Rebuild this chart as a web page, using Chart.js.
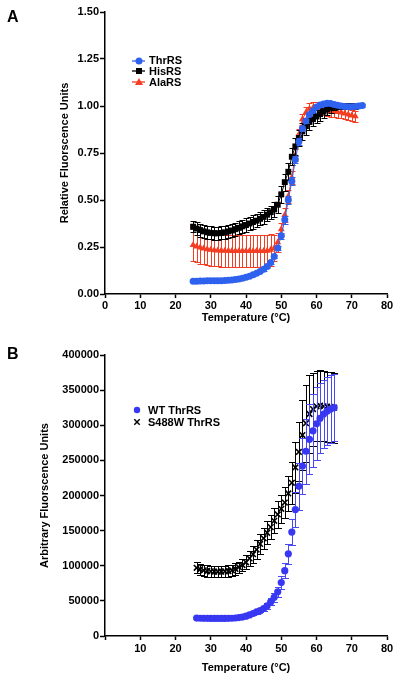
<!DOCTYPE html>
<html><head><meta charset="utf-8">
<script src="https://cdn.jsdelivr.net/npm/chart.js@4.4.1/dist/chart.umd.min.js"></script>
<style>
html,body{margin:0;padding:0;background:#fff;}
body{width:400px;height:682px;position:relative;overflow:hidden;font-family:"Liberation Sans",Arial,Helvetica,sans-serif;font-weight:bold;color:#000;}
.wrap{position:absolute;left:0;width:400px;}
.lbl{position:absolute;font-size:16px;line-height:16px;}
.leg{position:absolute;font-size:11px;line-height:11px;white-space:nowrap;}
svg.mk{position:absolute;overflow:visible;}
</style></head><body>
<div class="wrap" style="top:0;height:340px"><canvas id="ca" width="400" height="340"></canvas></div>
<div class="wrap" style="top:340px;height:342px"><canvas id="cb" width="400" height="342"></canvas></div>
<div class="lbl" style="left:7px;top:9px">A</div>
<div class="lbl" style="left:7px;top:346px">B</div>
<div id="legends"></div>
<script>
// ---------- Panel A data ----------
const tempsThr = [25,26,27,28,29,30,31,32,33,34,35,36,37,38,39,40,41,42,43,44,45,46,47,48,49,50,51,52,53,54,55,56,57,58,59,60,61,62,63,64,65,66,67,68,69,70,71,72,73];
const thrRS = [0.068,0.068,0.069,0.069,0.070,0.070,0.070,0.071,0.071,0.072,0.073,0.075,0.077,0.080,0.084,0.089,0.095,0.102,0.110,0.120,0.131,0.146,0.168,0.200,0.245,0.310,0.395,0.500,0.600,0.715,0.810,0.880,0.920,0.955,0.975,0.995,1.005,1.010,1.014,1.013,1.008,1.004,1.000,0.998,0.996,0.996,0.998,1.000,1.003];
const thrRSErr = [0.004,0.004,0.004,0.004,0.004,0.004,0.004,0.004,0.004,0.004,0.004,0.004,0.004,0.004,0.004,0.005,0.005,0.005,0.005,0.005,0.006,0.006,0.007,0.010,0.012,0.015,0.020,0.020,0.020,0.020,0.018,0.015,0.012,0.010,0.008,0.008,0.008,0.008,0.008,0.008,0.008,0.008,0.008,0.008,0.008,0.008,0.008,0.008,0.008];
const tempsHisAla = [25,26,27,28,29,30,31,32,33,34,35,36,37,38,39,40,41,42,43,44,45,46,47,48,49,50,51,52,53,54,55,56,57,58,59,60,61,62,63,64,65,66,67,68,69,70,71];
const hisRS = [0.358,0.348,0.340,0.333,0.328,0.325,0.323,0.323,0.325,0.328,0.333,0.338,0.345,0.352,0.360,0.367,0.375,0.383,0.390,0.400,0.410,0.422,0.435,0.450,0.475,0.530,0.595,0.650,0.730,0.785,0.830,0.865,0.893,0.915,0.930,0.944,0.957,0.970,0.982,0.990,0.996,1.000,1.000,1.000,1.000,1.000,0.998];
const hisRSErr = [0.030,0.035,0.035,0.035,0.035,0.035,0.035,0.035,0.035,0.035,0.035,0.035,0.035,0.035,0.035,0.035,0.035,0.035,0.035,0.035,0.035,0.035,0.035,0.040,0.045,0.045,0.045,0.045,0.045,0.045,0.045,0.045,0.045,0.045,0.035,0.035,0.035,0.035,0.030,0.025,0.015,0.015,0.015,0.015,0.015,0.015,0.015];
const alaRS = [0.260,0.253,0.247,0.242,0.238,0.235,0.233,0.232,0.231,0.230,0.230,0.229,0.229,0.229,0.229,0.229,0.229,0.229,0.229,0.229,0.229,0.230,0.235,0.245,0.275,0.345,0.420,0.520,0.620,0.740,0.850,0.930,0.965,0.985,0.990,0.990,0.985,0.980,0.975,0.970,0.970,0.968,0.965,0.960,0.955,0.950,0.945];
const alaRSErr = [0.085,0.085,0.085,0.085,0.085,0.085,0.085,0.085,0.085,0.085,0.085,0.085,0.085,0.085,0.085,0.085,0.085,0.085,0.085,0.085,0.085,0.085,0.085,0.070,0.050,0.035,0.035,0.035,0.035,0.030,0.030,0.030,0.030,0.030,0.030,0.030,0.030,0.030,0.030,0.030,0.030,0.030,0.030,0.030,0.030,0.030,0.030];
const seriesA = ['ThrRS','HisRS','AlaRS'];
const xTicks = [0,10,20,30,40,50,60,70,80];
const yTicksA = [0,0.25,0.5,0.75,1.0,1.25,1.5];

// ---------- Panel B data ----------
const tempsB = [26,27,28,29,30,31,32,33,34,35,36,37,38,39,40,41,42,43,44,45,46,47,48,49,50,51,52,53,54,55,56,57,58,59,60,61,62,63,64,65];
const wtThrRS = [25500,25300,25200,25100,25000,25000,25000,25000,25000,25100,25300,25600,26200,27000,28200,30000,32000,34500,36000,39000,43000,48500,55000,63000,76000,93000,117000,148000,180000,213000,242000,263000,280000,292000,302000,310000,316000,320000,323000,325000];
const wtThrRSErr = [1500,1500,1500,1500,1500,1500,1500,1500,1500,1500,1500,1500,1500,1500,1500,2000,2000,2500,2500,3000,4000,5000,6000,7000,9000,11000,14000,18000,25000,33000,40000,46000,50000,52000,52000,50000,49000,48000,48000,48000];
const s488w = [97000,95000,93500,92500,92000,91500,91500,91500,92000,92500,93500,95500,98000,101000,105000,110500,116500,123000,131000,139000,147000,155000,164000,173000,181000,190000,203000,218000,240000,262000,286000,303000,316000,323000,327000,328000,327000,326500,326000,325000];
const s488wErr = [8000,8000,8000,8000,8000,8000,8000,8000,8000,8000,8000,8000,8000,9000,10000,11000,12000,13000,14000,15000,16000,17000,18000,19000,20000,22000,25000,30000,36000,42000,50000,55000,55000,52000,50000,50000,50000,50000,50000,50000];
const seriesB = ['WT ThrRS','S488W ThrRS'];
const yTicksB = [0,50000,100000,150000,200000,250000,300000,350000,400000];

// ---------- styling ----------
const FONT = '"Liberation Sans", Arial, Helvetica, sans-serif';
Chart.defaults.font.family = FONT;
Chart.defaults.font.size = 11;
Chart.defaults.font.weight = 'bold';
Chart.defaults.color = '#000';

const BLUE_A = '#2e62ee', RED_A = '#f43d22', BLACK = '#000000';
const BLUE_B = '#3838f2';

const errorBars = {
  id: 'errorBars',
  beforeDatasetDraw(chart, args) {
    const ds = chart.data.datasets[args.index];
    if (!ds.errors) return;
    const ys = chart.scales.y;
    const ctx = chart.ctx;
    ctx.save();
    ctx.strokeStyle = ds.errorColor;
    ctx.lineWidth = 1;
    const cap = ds.capHalf;
    args.meta.data.forEach((pt, i) => {
      const v = ds.data[i].y, e = ds.errors[i];
      if (!e) return;
      const x = Math.round(pt.x) + 0.5;
      const yT = Math.round(ys.getPixelForValue(v + e)) + 0.5;
      const yB = Math.round(ys.getPixelForValue(v - e)) + 0.5;
      ctx.beginPath();
      ctx.moveTo(x, yT); ctx.lineTo(x, yB);
      ctx.moveTo(x - cap, yT); ctx.lineTo(x + cap, yT);
      ctx.moveTo(x - cap, yB); ctx.lineTo(x + cap, yB);
      ctx.stroke();
    });
    ctx.restore();
  }
};

function pts(xs, ys) { return xs.map((x, i) => ({x: x, y: ys[i]})); }

function axisOpts(o) {
  return {
    type: 'linear', min: o.min, max: o.max,
    afterBuildTicks: s => { s.ticks = o.ticks.map(v => ({value: v})); },
    afterFit: o.fit,
    border: {display: true, color: '#000', width: 1.5},
    grid: {display: true, drawOnChartArea: false, drawTicks: true, tickLength: o.tl, color: '#000', tickColor: '#000', tickWidth: 1.5},
    ticks: {padding: o.pad, color: '#000', font: {family: FONT, size: 11, weight: 'bold'}, callback: o.cb, autoSkip: false, maxRotation: 0},
    title: {display: true, text: o.title, color: '#000', font: {family: FONT, size: 11, weight: 'bold'}, padding: o.tpad}
  };
}

// ---------- Panel A ----------
new Chart(document.getElementById('ca'), {
  type: 'scatter',
  data: {
    datasets: [
      {label: seriesA[0], data: pts(tempsThr, thrRS), errors: thrRSErr, errorColor: BLUE_A, capHalf: 3,
       showLine: true, borderColor: BLUE_A, backgroundColor: BLUE_A, borderWidth: 1,
       pointStyle: 'circle', pointRadius: 3.5, pointBorderWidth: 0},
      {label: seriesA[1], data: pts(tempsHisAla, hisRS), errors: hisRSErr, errorColor: BLACK, capHalf: 3,
       showLine: true, borderColor: BLACK, backgroundColor: BLACK, borderWidth: 1,
       pointStyle: 'rect', pointRadius: 4.2, pointBorderWidth: 0},
      {label: seriesA[2], data: pts(tempsHisAla, alaRS), errors: alaRSErr, errorColor: RED_A, capHalf: 3,
       showLine: true, borderColor: RED_A, backgroundColor: RED_A, borderWidth: 1,
       pointStyle: 'triangle', pointRadius: 4, pointBorderWidth: 0}
    ]
  },
  options: {
    responsive: false, animation: false,
    layout: {padding: {top: 12, right: 13, left: 0, bottom: 0}},
    plugins: {legend: {display: false}, tooltip: {enabled: false}},
    scales: {
      x: axisOpts({min: 0, max: 80, ticks: xTicks, tl: 4, pad: 1, cb: v => String(v),
        fit: s => { s.height = 46; }, title: 'Temperature (°C)', tpad: {top: 0, bottom: 15}}),
      y: axisOpts({min: 0, max: 1.5, ticks: yTicksA, tl: 5, pad: 1, cb: v => v.toFixed(2),
        fit: s => { s.width = 105; }, title: 'Relative Fluorscence Units', tpad: {top: 58, bottom: 0}})
    }
  },
  plugins: [errorBars]
});

// ---------- Panel B ----------
new Chart(document.getElementById('cb'), {
  type: 'scatter',
  data: {
    datasets: [
      {label: seriesB[0], data: pts(tempsB, wtThrRS), errors: wtThrRSErr, errorColor: '#4848f4', capHalf: 3.5,
       showLine: false, borderColor: BLUE_B, backgroundColor: BLUE_B,
       pointStyle: 'circle', pointRadius: 3.6, pointBorderWidth: 0},
      {label: seriesB[1], data: pts(tempsB, s488w), errors: s488wErr, errorColor: BLACK, capHalf: 3.5,
       showLine: false, borderColor: BLACK, backgroundColor: BLACK,
       pointStyle: 'crossRot', pointRadius: 4, pointBorderWidth: 1.6}
    ]
  },
  options: {
    responsive: false, animation: false,
    layout: {padding: {top: 15, right: 13, left: 0, bottom: 0}},
    plugins: {legend: {display: false}, tooltip: {enabled: false}},
    scales: {
      x: axisOpts({min: 0, max: 80, ticks: xTicks, tl: 4, pad: 2, cb: v => (v === 0 ? '' : String(v)),
        fit: s => { s.height = 46; }, title: 'Temperature (°C)', tpad: {top: 0, bottom: 7}}),
      y: axisOpts({min: 0, max: 400000, ticks: yTicksB, tl: 5, pad: 1, cb: v => String(v),
        fit: s => { s.width = 105; }, title: 'Arbitrary Fluorscence Units', tpad: {top: 38, bottom: 0}})
    }
  },
  plugins: [errorBars]
});

// ---------- HTML legends ----------
const legHost = document.getElementById('legends');
function addRow(cx, cy, textX, text, markerSvg) {
  const s = document.createElementNS('http://www.w3.org/2000/svg', 'svg');
  s.setAttribute('class', 'mk');
  s.setAttribute('width', '20'); s.setAttribute('height', '12');
  s.style.left = (cx - 10) + 'px'; s.style.top = (cy - 6) + 'px';
  s.innerHTML = markerSvg;
  legHost.appendChild(s);
  const d = document.createElement('div');
  d.className = 'leg';
  d.style.left = textX + 'px'; d.style.top = (cy - 5.5) + 'px';
  d.textContent = text;
  legHost.appendChild(d);
}
const lineSeg = c => `<line x1="3" y1="6" x2="16" y2="6" stroke="${c}" stroke-width="1.3"/>`;
addRow(139, 60.5, 149, seriesA[0], lineSeg(BLUE_A) + `<circle cx="10" cy="6" r="3.5" fill="${BLUE_A}"/>`);
addRow(139, 71, 149, seriesA[1], lineSeg(BLACK) + `<rect x="7" y="3" width="6" height="6" fill="${BLACK}"/>`);
addRow(139, 82, 149, seriesA[2], lineSeg(RED_A) + `<polygon points="10,2 14,9 6,9" fill="${RED_A}"/>`);
addRow(137, 410, 148, seriesB[0], `<circle cx="10" cy="6" r="3.2" fill="${BLUE_B}"/>`);
addRow(137, 422, 148, seriesB[1], `<path d="M7.3 3.3 L12.7 8.7 M12.7 3.3 L7.3 8.7" stroke="#000" stroke-width="1.5"/>`);
</script>
</body></html>
